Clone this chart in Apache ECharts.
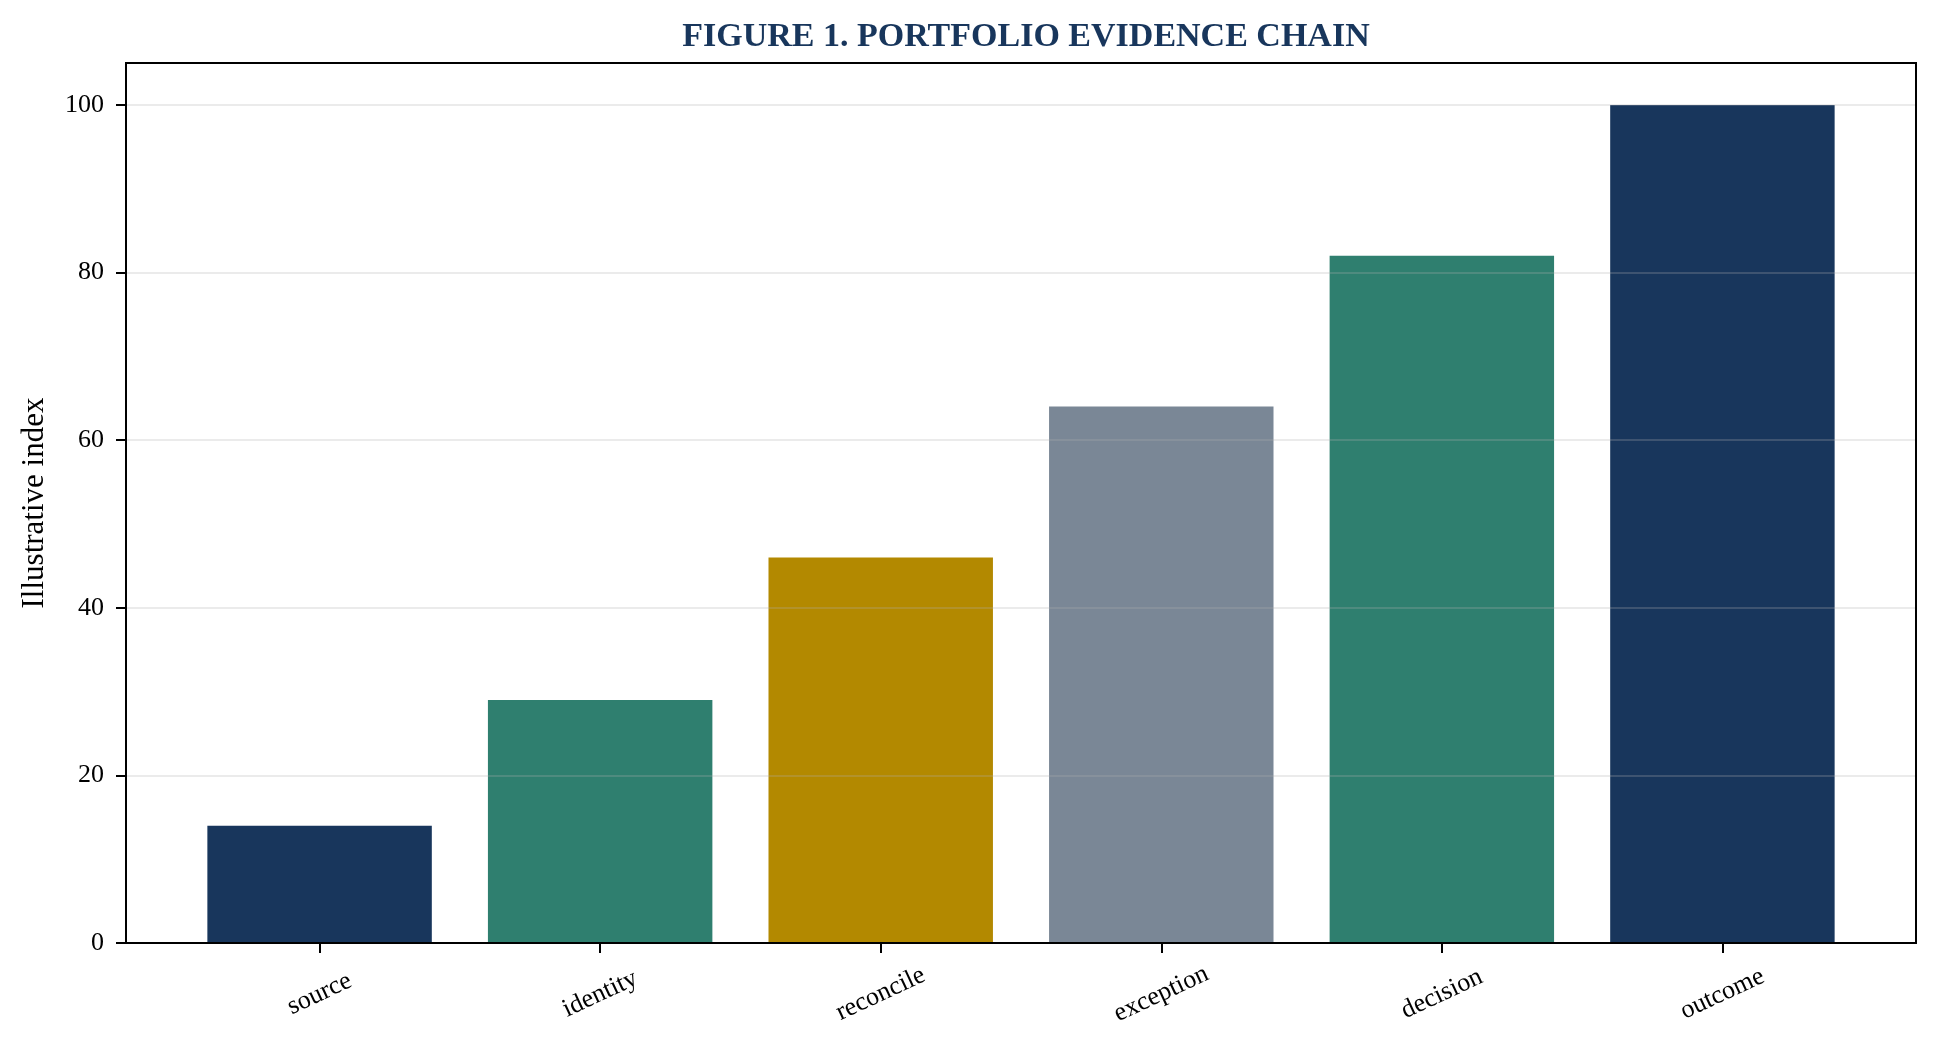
<!DOCTYPE html>
<html>
<head>
<meta charset="utf-8">
<script src="https://cdn.jsdelivr.net/npm/echarts@6/dist/echarts.min.js"></script>
<style>
html, body { margin: 0; padding: 0; background: #fff; }
#chart { width: 1938px; height: 1057px; }
</style>
</head>
<body>
<div id="chart"></div>
<script>
var stages = ['source', 'identity', 'reconcile', 'exception', 'decision', 'outcome'];
var indexValues = [14, 29, 46, 64, 82, 100];
var barColors = ['#18365c', '#2f7f6f', '#b38900', '#7a8796', '#2f7f6f', '#18365c'];
var yTicks = [0, 20, 40, 60, 80, 100];

var chart = echarts.init(document.getElementById('chart'));

var serif = 'Liberation Serif, Times New Roman, serif';
var plotLeft = 126, plotRight = 1916, plotTop = 63, plotBottom = 943;
// matplotlib style x padding: bars at 0..5, xlim -0.69..5.69
var unit = (plotRight - plotLeft) / 6.38;
var bandLeft = plotLeft + 0.19 * unit;
var bandRight = plotRight - 0.19 * unit;

var option = {
    backgroundColor: '#fff',
    animation: false,
    title: {
        text: 'FIGURE 1. PORTFOLIO EVIDENCE CHAIN',
        left: (plotLeft + plotRight) / 2,
        textAlign: 'center',
        top: 15,
        textStyle: {
            fontFamily: serif,
            fontWeight: 'bold',
            fontSize: 34,
            color: '#18365c'
        }
    },
    grid: [
        {
            left: plotLeft, right: 1938 - plotRight, top: plotTop, bottom: 1057 - plotBottom,
            show: true, borderColor: '#000', borderWidth: 2, backgroundColor: 'transparent', z: 6
        },
        {
            left: bandLeft, right: 1938 - bandRight, top: plotTop, bottom: 1057 - plotBottom
        }
    ],
    xAxis: [
        { gridIndex: 0, type: 'value', min: 0, max: 1, show: false },
        {
            gridIndex: 1,
            type: 'category',
            data: stages,
            axisLine: { show: false },
            axisTick: { show: true, alignWithLabel: true, length: 10, lineStyle: { color: '#000', width: 2 } },
            axisLabel: {
                rotate: 25,
                align: 'center',
                verticalAlign: 'middle',
                margin: 51,
                fontFamily: serif,
                fontSize: 26,
                color: '#000'
            }
        }
    ],
    yAxis: [
        {
            gridIndex: 0,
            type: 'value',
            min: 0,
            max: 105,
            interval: 20,
            z: 5,
            name: 'Illustrative index',
            nameLocation: 'middle',
            nameGap: 76,
            nameTextStyle: { fontFamily: serif, fontSize: 31, color: '#000' },
            axisLine: { show: false },
            axisTick: { show: true, length: 10, customValues: yTicks, lineStyle: { color: '#000', width: 2 } },
            axisLabel: {
                margin: 22,
                customValues: yTicks,
                fontFamily: serif,
                fontSize: 26,
                color: '#000'
            },
            splitLine: { show: true, lineStyle: { color: 'rgba(176,176,176,0.25)', width: 2 } }
        },
        { gridIndex: 1, type: 'value', min: 0, max: 105, show: false }
    ],
    series: [
        {
            type: 'bar',
            xAxisIndex: 1,
            yAxisIndex: 1,
            barWidth: '80%',
            data: indexValues.map(function (v, i) {
                return { value: v, itemStyle: { color: barColors[i] } };
            })
        }
    ]
};

chart.setOption(option);
</script>
</body>
</html>
